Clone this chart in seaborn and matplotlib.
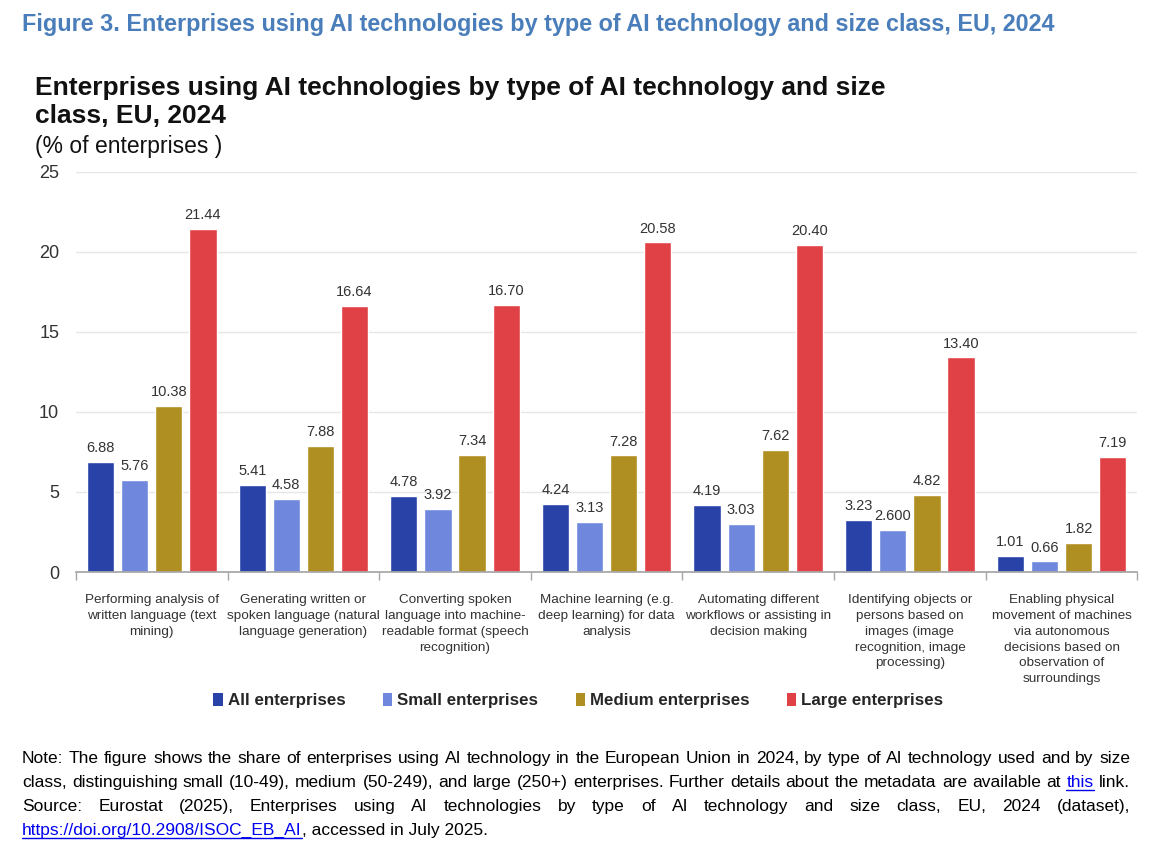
import numpy as np
import pandas as pd
import matplotlib
matplotlib.use("Agg")
import matplotlib.pyplot as plt
from matplotlib import font_manager
from matplotlib.patches import Patch
from matplotlib.lines import Line2D
import seaborn as sns

# ---- data ----
categories = [
    "Performing analysis of\nwritten language (text\nmining)",
    "Generating written or\nspoken language (natural\nlanguage generation)",
    "Converting spoken\nlanguage into machine-\nreadable format (speech\nrecognition)",
    "Machine learning (e.g.\ndeep learning) for data\nanalysis",
    "Automating different\nworkflows or assisting in\ndecision making",
    "Identifying objects or\npersons based on\nimages (image\nrecognition, image\nprocessing)",
    "Enabling physical\nmovement of machines\nvia autonomous\ndecisions based on\nobservation of\nsurroundings",
]
size_classes = ["All enterprises", "Small enterprises", "Medium enterprises", "Large enterprises"]

all_ent = [6.88, 5.41, 4.78, 4.24, 4.19, 3.23, 1.01]
small_ent = [5.76, 4.58, 3.92, 3.13, 3.03, 2.60, 0.66]
medium_ent = [10.38, 7.88, 7.34, 7.28, 7.62, 4.82, 1.82]
large_ent = [21.44, 16.64, 16.70, 20.58, 20.40, 13.40, 7.19]

# the source chart prints this one label with three decimals
label_overrides = {("Small enterprises", 5): "2.600"}

colors = ["#2842A7", "#6F88DE", "#B08F22", "#E04146"]

df = pd.DataFrame({
    "technology": categories * 4,
    "size_class": np.repeat(size_classes, len(categories)),
    "share": all_ent + small_ent + medium_ent + large_ent,
})

# ---- fonts ----
sns.set_theme(style="white")
names = {f.name for f in font_manager.fontManager.ttflist}
NARROW = "Liberation Sans Narrow" if "Liberation Sans Narrow" in names else "Liberation Sans"
plt.rcParams["font.family"] = ["Liberation Sans", "DejaVu Sans"]

fig = plt.figure(figsize=(11.5, 8.5), dpi=100)
ax = fig.add_axes([0.066, 0.327, 0.923, 0.471])

sns.barplot(data=df, x="technology", y="share", hue="size_class",
            hue_order=size_classes, palette=colors, saturation=1,
            width=0.9, gap=0.2, errorbar=None, legend=False, ax=ax)

for i, cont in enumerate(ax.containers):
    vals = df[df["size_class"] == size_classes[i]]["share"].tolist()
    labels = [label_overrides.get((size_classes[i], j), f"{v:.2f}") for j, v in enumerate(vals)]
    ax.bar_label(cont, labels=labels, padding=5, fontsize=10.5, color="#333333")

ax.set_ylim(0, 25)
ax.set_xlim(-0.5, 6.5)
ax.set_yticks(range(0, 26, 5))
ax.set_xlabel("")
ax.set_ylabel("")
ax.yaxis.grid(True, color="#e6e6e6", lw=1)
ax.set_axisbelow(True)
for s in ["left", "top", "right"]:
    ax.spines[s].set_visible(False)
ax.spines["bottom"].set_color("#a6a6a6")
ax.set_xticks(np.arange(-0.5, 7, 1), minor=True)
ax.tick_params(axis="x", which="major", length=0, pad=16, labelsize=9.7, labelcolor="#333333")
ax.tick_params(axis="x", which="minor", length=6, color="#a6a6a6", width=1, direction="out", bottom=True)
ax.tick_params(axis="y", length=0, pad=12, labelsize=13, labelcolor="#333333")
for t in ax.get_xticklabels():
    t.set_linespacing(1.42)

# legend
handles = [Patch(facecolor=c, edgecolor="none") for c in colors]
fig.legend(handles, size_classes, loc="center", bbox_to_anchor=(0.503, 0.176), ncol=4,
           frameon=False, prop={"weight": "bold", "size": 12.2}, handlelength=0.55,
           handleheight=0.8, handletextpad=0.3, columnspacing=2.2)

# titles
fig.text(22 / 1150, 1 - 25 / 850,
         "Figure 3. Enterprises using AI technologies by type of AI technology and size class, EU, 2024",
         color="#4A7EBB", fontsize=16.8, weight="bold", family=NARROW, va="center")
fig.text(35 / 1150, 1 - 88 / 850, "Enterprises using AI technologies by type of AI technology and size",
         fontsize=19, weight="bold", va="center", color="#111111")
fig.text(35 / 1150, 1 - 116 / 850, "class, EU, 2024", fontsize=19, weight="bold", va="center", color="#111111")
fig.text(35 / 1150, 1 - 146 / 850, "(% of enterprises )", fontsize=16.5, va="center", color="#111111")

# ---- note block (justified lines) ----
renderer = fig.canvas.get_renderer()
LINK = "#0000EE"
W, H = fig.bbox.width, fig.bbox.height

line1 = ("Note: The figure shows the share of enterprises using AI technology in the European Union "
         "in 2024, by type of AI technology used and by size").split()
line2 = ("class, distinguishing small (10-49), medium (50-249), and large (250+) enterprises. "
         "Further details about the metadata are available at this link.").split()
line3 = ("Source: Eurostat (2025), Enterprises using AI technologies by type of AI technology "
         "and size class, EU, 2024 (dataset),").split()

# pick a note size so that the longest line just fits the text block
probe = fig.text(0, 0, " ".join(line2), fontsize=10, family=NARROW)
NOTE_SIZE = 10 * 1100 / probe.get_window_extent(renderer).width
probe.remove()


def place_words(y_px, words, x0=22, x1=1130, links=()):
    y = 1 - y_px / H
    texts = [fig.text(0, y, w, fontsize=NOTE_SIZE, family=NARROW, va="baseline",
                      color=LINK if i in links else "#000000") for i, w in enumerate(words)]
    widths = [t.get_window_extent(renderer).width for t in texts]
    gap = (x1 - x0 - sum(widths)) / (len(words) - 1)
    x = x0
    for i, (t, w) in enumerate(zip(texts, widths)):
        t.set_x(x / W)
        if i in links:
            fig.add_artist(Line2D([x / W, (x + w) / W], [y - 3 / H, y - 3 / H],
                                  color=LINK, lw=1, transform=fig.transFigure))
        x += w + gap


place_words(763, line1)
place_words(787, line2, links=(line2.index("this"),))
place_words(811, line3)

url = fig.text(22 / W, 1 - 835 / H, "https://doi.org/10.2908/ISOC_EB_AI", fontsize=NOTE_SIZE,
               family=NARROW, va="baseline", color=LINK)
uw = url.get_window_extent(renderer).width
fig.add_artist(Line2D([22 / W, (22 + uw) / W], [1 - 838 / H, 1 - 838 / H], color=LINK, lw=1,
                      transform=fig.transFigure))
fig.text((22 + uw) / W, 1 - 835 / H, ", accessed in July 2025.", fontsize=NOTE_SIZE,
         family=NARROW, va="baseline", color="#000000")

fig.savefig("out.png", dpi=100, facecolor="white")
